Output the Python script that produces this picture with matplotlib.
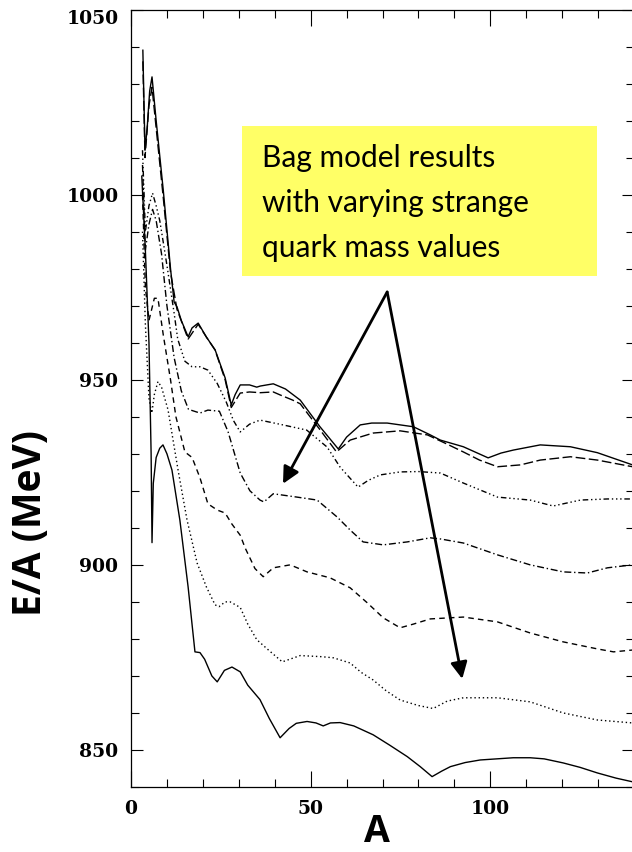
import matplotlib.pyplot as plt
from matplotlib.patches import Rectangle

# mass number A and energy per baryon E/A (MeV), curves from top to bottom
a_1 = [3.3, 3.9, 4.5, 5.2, 5.85, 7, 9, 11, 12, 12.8, 14, 15.9, 17, 18.7, 21, 23.4, 26.2, 27.6, 27.9, 29,
       30.4, 33, 35, 36, 39.6, 43, 47.1, 52.6, 57.7, 60, 63.8, 67, 71.3, 78.6, 83.3, 86.1, 92.5, 99.4,
       103, 106.4, 113.9, 122.3, 129.8, 139.6]
e_1 = [1039, 1012, 1018, 1028, 1031.8, 1020, 1001, 980, 971, 969.7, 966, 961.6, 964, 965.3, 961.5, 958.1,
       950.5, 944.5, 943.2, 946, 948.6, 948.6, 948, 948.3, 948.9, 947.5, 944.5, 937.3, 931.3, 934.5,
       937.8, 938.3, 938.3, 937.3, 935.1, 933.7, 931.9, 928.9, 930.2, 931.0, 932.4, 931.9, 930.3, 927.0]

a_2 = [3.3, 3.9, 5.0, 5.85, 7, 9, 11, 12.8, 15.9, 18.7, 21, 23.4, 26.2, 27.9, 30.4, 33, 36, 39.6, 41.5,
       45, 47.1, 52.6, 57.2, 61, 67.4, 74.9, 82.5, 88, 92.5, 97, 102, 108.4, 113.9, 122.3, 129.8, 139.6]
e_2 = [1036, 1010, 1024, 1029, 1018, 999, 979, 969, 961, 965, 961.5, 958, 950, 942.5, 946.4, 946.7,
       946.5, 946.7, 945.9, 944.5, 943.5, 936.5, 930.5, 933.7, 935.6, 936.2, 935.1, 932.6, 930.5, 928.3,
       926.5, 927.0, 928.3, 929.2, 928.3, 926.5]

a_3 = [3.2, 4.0, 5.0, 6.0, 7.0, 8.0, 9.5, 10.3, 12, 13, 15, 17, 19.2, 21.4, 24, 26.5, 28.5, 30.4, 33,
       35.9, 42.3, 48.9, 54.6, 58.2, 63.2, 66, 69.4, 74.9, 80, 86.1, 92.5, 102, 111.1, 117.5, 125.1,
       132.6, 139.6]
e_3 = [1012, 990, 997, 1000.4, 997, 993, 984, 979, 968, 961, 955, 953.5, 953.5, 952.6, 949, 944, 939,
       935.9, 938, 939.1, 937.8, 936.4, 931.8, 926.4, 921.0, 922.8, 924.3, 925.1, 925.2, 924.8, 922.1,
       918.3, 917.5, 915.9, 917.5, 917.8, 917.8]

a_4 = [3.2, 4.0, 5.0, 6.0, 7.0, 8.5, 10, 12, 14, 16, 19.2, 21.4, 24.6, 27, 30.4, 33.1, 35.9, 37, 39.6,
       46.2, 51.8, 57.4, 61, 64.6, 70.2, 76.9, 83.3, 86.1, 92.5, 102, 111.1, 120.3, 127, 132.6, 139.6]
e_4 = [1008, 985, 992, 996, 993, 984, 970, 956, 947, 942, 941, 941.8, 941.5, 936, 924.8, 920, 917.5,
       917, 919.2, 918.3, 917.5, 912.9, 909.4, 906.2, 905.4, 906.2, 907.3, 907.0, 905.9, 902.7, 900.0,
       898.1, 897.8, 899.2, 900.0]

a_5 = [3.2, 4.0, 5.0, 6.5, 7.5, 9, 11, 12.5, 15, 17, 19.2, 21.4, 24, 26.2, 28.1, 30.4, 31.8, 34.5, 36.8,
       39.6, 44.3, 49, 55.4, 61, 65.7, 70.2, 74.9, 78.6, 83.3, 92.5, 102, 111.1, 120.3, 129.8, 134.3,
       139.6]
e_5 = [1000, 975, 966, 972, 972, 962, 950, 940, 930.5, 929, 923.5, 916.5, 914.8, 914, 911, 908, 904.5,
       899, 896.8, 899.2, 900, 898.1, 896.5, 893.8, 889.8, 885.7, 883.0, 884, 885.4, 885.9, 884.6, 881.6,
       879.2, 877.3, 876.5, 877.0]

a_6 = [3.2, 4.0, 5.0, 5.8, 6.5, 7.5, 8.5, 10.3, 13.1, 15.6, 18.4, 21, 23.4, 24.5, 26.2, 27.6, 30.4, 32.5,
       35, 37.9, 42.1, 47.1, 53, 56.3, 61, 64, 67.4, 71, 74.9, 80, 84.1, 88, 92.5, 102, 111.1, 120.3,
       129.8, 139.6]
e_6 = [990, 965, 945, 941, 946, 949.5, 948, 941.9, 925.6, 912.1, 900.5, 894, 889.2, 888.7, 890, 890,
       888.5, 884, 879.8, 877.3, 873.8, 875.5, 875.2, 874.9, 873.5, 871, 868.9, 866, 863.5, 862, 861.2,
       863.2, 864.1, 864.1, 863.0, 860.0, 858.1, 857.3]

a_7 = [3.0, 4.0, 5.0, 5.6, 5.85, 6.2, 7.0, 8.0, 8.9, 10, 11.4, 13.6, 15.9, 17.8, 19.2, 20.5, 22.5, 24,
       26, 28.1, 30.4, 32.5, 35.9, 38.5, 41.5, 44, 46, 49, 51.5, 53.5, 55.5, 58.2, 62, 67.4, 72, 76.9,
       80.5, 83.8, 86.5, 88.9, 93, 97.2, 106.4, 111.1, 115, 120.3, 125, 129.8, 135, 139.6]
e_7 = [1005, 985, 960, 930, 906, 922, 929, 931.5, 932.4, 930, 925.6, 912.1, 894, 876.5, 876.3, 874.5,
       870, 868.4, 871.5, 872.4, 871.1, 867.5, 863.6, 858.5, 853.3, 855.8, 857.2, 857.7, 857.3, 856.5,
       857.3, 857.4, 856.5, 854.1, 851.3, 848.2, 845.5, 842.8, 844.3, 845.5, 846.6, 847.3, 847.9, 847.9,
       847.6, 846.5, 845.3, 843.8, 842.4, 841.4]

x_ticks = [0, 50, 100]
y_ticks = [850, 900, 950, 1000, 1050]
note_lines = ["Bag model results", "with varying strange", "quark mass values"]

curves = [
    (a_1, e_1, '-'),
    (a_2, e_2, (0, (7, 2.5))),
    (a_3, e_3, (0, (4, 2, 1, 2, 1, 2, 1, 2))),
    (a_4, e_4, (0, (5, 2, 1, 2))),
    (a_5, e_5, (0, (4, 3))),
    (a_6, e_6, (0, (1, 2))),
    (a_7, e_7, '-'),
]

W, H = 632, 852
fig = plt.figure(figsize=(W / 100, H / 100), dpi=100)
ax = fig.add_axes([131 / W, 65 / H, 503 / W, 777.5 / H])

for a, e, ls in curves:
    ax.plot(a, e, color='black', lw=1.0, linestyle=ls)

ax.set_xlim(0, 140)
ax.set_ylim(840, 1050)
ax.set_xticks(x_ticks)
ax.set_xticks(range(0, 141, 10), minor=True)
ax.set_yticks(y_ticks)
ax.set_yticks(range(840, 1051, 10), minor=True)
for s in ax.spines.values():
    s.set_linewidth(0.9)

ax.tick_params(axis='both', which='both', direction='in', top=True, right=True, width=0.8)
ax.tick_params(axis='x', which='major', length=11.5, pad=9)
ax.tick_params(axis='x', which='minor', length=6)
ax.tick_params(axis='y', which='major', length=8.6, pad=9)
ax.tick_params(axis='y', which='minor', length=5.5)
for lab in ax.get_xticklabels() + ax.get_yticklabels():
    lab.set_fontfamily('DejaVu Serif')
    lab.set_fontsize(13.5)
    lab.set_fontweight('semibold')
ax.yaxis.get_major_ticks()[-1].label1.set_va('top')

fig.text(31 / W, 1 - 523 / H, 'E/A (MeV)', rotation=90, ha='center', va='center',
         fontsize=28, fontweight='bold', family='Open Sans')
fig.text(377 / W, 1 / H, 'A', ha='center', va='bottom',
         fontsize=27, fontweight='bold', family='Open Sans')

# yellow note box with arrows
fig.patches.append(Rectangle((242 / W, 1 - 276 / H), 355 / W, 150 / H, transform=fig.transFigure,
                             facecolor='#FFFF66', edgecolor='none', zorder=3))
for i, line in enumerate(note_lines):
    fig.text(262 / W, 1 - (167 + 45 * i) / H, line, ha='left', va='baseline', fontsize=21.5,
             family='Lato', color='black', zorder=4)

apex = (71.3, 973.7)
for tip in [(42.3, 921.9), (92.2, 869.2)]:
    ax.annotate('', xy=tip, xytext=apex,
                arrowprops=dict(arrowstyle='-|>', lw=2.0, color='black', mutation_scale=25,
                                shrinkA=0, shrinkB=0))

fig.savefig('out.png', dpi=100)
